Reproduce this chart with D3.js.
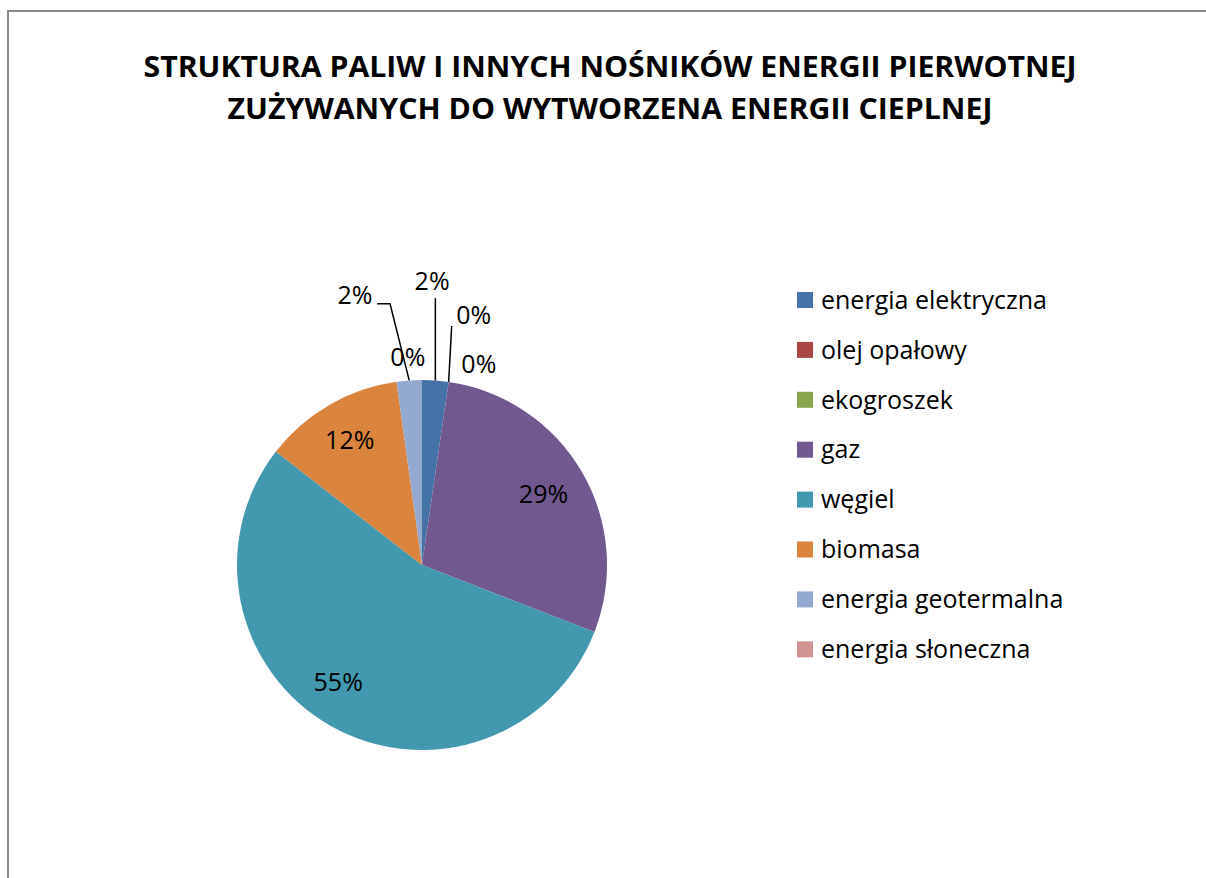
<!DOCTYPE html>
<html>
<head>
<meta charset="utf-8">
<script src="https://cdn.jsdelivr.net/npm/d3@7"></script>
<style>
  body { margin: 0; background: #fff; }
  text { font-family: "Open Sans", "Noto Sans", sans-serif; fill: #000; }
</style>
</head>
<body>
<svg id="chart" width="1206" height="878"></svg>
<script>
// categories and shares (%)
var categories = [ "energia elektryczna", "olej opałowy", "ekogroszek", "gaz",
                   "węgiel", "biomasa", "energia geotermalna", "energia słoneczna" ];
var values = [ 2.3, 0, 0, 28.6, 54.6, 12.3, 2.2, 0 ];
var labels = [ "2%", "0%", "0%", "29%", "55%", "12%", "2%", "0%" ];
var colors = [ "#4572A7", "#AA4643", "#89A54E", "#71588F",
               "#4198AF", "#DB843D", "#93A9CF", "#D19392" ];
var titleLines = [ "STRUKTURA PALIW I INNYCH NOŚNIKÓW ENERGII PIERWOTNEJ",
                   "ZUŻYWANYCH DO WYTWORZENA ENERGII CIEPLNEJ" ];

// label layout: inside labels sit on a radius, outside ones get a polar nudge
// [ angle shift in degrees, radius as share of pie radius, leader? ]
var labelLayout = [
    [ -2.1, 1.535, true ],
    [ 3.4, 1.38, true ],
    [ 7.5, 1.13, false ],
    [ 0, 0.76, false ],
    [ 6, 0.78, false ],
    [ 0, 0.78, false ],
    [ -10, 1.50, true ],
    [ -3.9, 1.125, false ]
];

var svg = d3.select( "#chart" );
var cx = 422, cy = 565, r = 185;

// outer frame (cut by the window on the right and bottom)
svg.append( "rect" )
    .attr( "x", 8 ).attr( "y", 11 )
    .attr( "width", 1300 ).attr( "height", 1000 )
    .attr( "fill", "none" )
    .attr( "stroke", "#898989" )
    .attr( "stroke-width", 2 );

// title
svg.append( "g" ).selectAll( "text" )
    .data( titleLines )
    .enter().append( "text" )
    .attr( "x", 610 )
    .attr( "y", function( d, i ) { return 77 + i * 42; } )
    .attr( "text-anchor", "middle" )
    .attr( "font-size", 28 )
    .attr( "font-weight", "bold" )
    .attr( "textLength", function( d, i ) { return i == 0 ? 933 : 765; } )
    .attr( "lengthAdjust", "spacingAndGlyphs" )
    .text( function( d ) { return d; } );

var pie = d3.pie().sort( null ).value( function( d ) { return d; } );
var arcs = pie( values );
var arc = d3.arc().innerRadius( 0 ).outerRadius( r );

var g = svg.append( "g" ).attr( "transform", "translate(" + cx + "," + cy + ")" );

g.selectAll( "path" )
    .data( arcs )
    .enter().append( "path" )
    .attr( "d", arc )
    .attr( "fill", function( d, i ) { return colors[ i ]; } );

function polar( angle, radius )
{
    return [ radius * Math.sin( angle ), -radius * Math.cos( angle ) ];
}

function labelPos( d, i )
{
    var mid = ( d.startAngle + d.endAngle ) / 2;
    var lay = labelLayout[ i ];
    return polar( mid + lay[ 0 ] * Math.PI / 180, lay[ 1 ] * r );
}

// leader lines for the labels pushed outside
g.selectAll( "path.leader" )
    .data( arcs.filter( function( d, i ) { return labelLayout[ i ][ 2 ]; } ) )
    .enter().append( "path" )
    .attr( "class", "leader" )
    .attr( "fill", "none" )
    .attr( "stroke", "#000" )
    .attr( "stroke-width", 1.5 )
    .attr( "d", function( d )
    {
        var i = d.index;
        var mid = ( d.startAngle + d.endAngle ) / 2;
        var edge = polar( mid, r );
        var p = labelPos( d, i );
        switch( i )
        {
            case 0:
                return "M" + edge[ 0 ] + "," + edge[ 1 ] + "L" + edge[ 0 ] + "," + ( p[ 1 ] + 17 );
            case 1:
                return "M" + edge[ 0 ] + "," + edge[ 1 ] + "L" + ( p[ 0 ] - 22 ) + "," + ( p[ 1 ] + 11 );
            default:
                return "M" + edge[ 0 ] + "," + edge[ 1 ] + "L" + ( p[ 0 ] + 35 ) + "," + ( p[ 1 ] + 8 ) +
                       "L" + ( p[ 0 ] + 22 ) + "," + ( p[ 1 ] + 8 );
        }
    });

g.selectAll( "text.lbl" )
    .data( arcs )
    .enter().append( "text" )
    .attr( "class", "lbl" )
    .attr( "text-anchor", "middle" )
    .attr( "dy", "0.35em" )
    .attr( "font-size", 25 )
    .attr( "transform", function( d, i ) { return "translate(" + labelPos( d, i ) + ")"; } )
    .text( function( d, i ) { return labels[ i ]; } );

// legend
var legend = svg.append( "g" ).attr( "transform", "translate(797,0)" )
    .selectAll( "g" )
    .data( categories )
    .enter().append( "g" )
    .attr( "transform", function( d, i ) { return "translate(0," + ( 300 + i * 49.9 ) + ")"; } );

legend.append( "rect" )
    .attr( "x", 0 ).attr( "y", -8 )
    .attr( "width", 16 ).attr( "height", 16 )
    .attr( "fill", function( d, i ) { return colors[ i ]; } );

legend.append( "text" )
    .attr( "x", 24 )
    .attr( "dy", "0.35em" )
    .attr( "font-size", 25 )
    .text( function( d ) { return d; } );
</script>
</body>
</html>
